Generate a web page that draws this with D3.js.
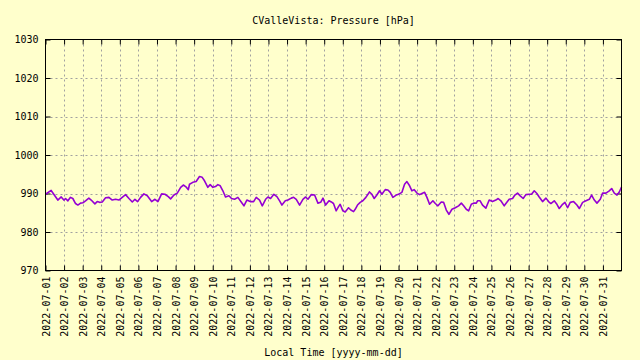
<!DOCTYPE html>
<html>
<head>
<meta charset="utf-8">
<script src="https://cdn.jsdelivr.net/npm/d3@7"></script>
<style>
  html, body { margin: 0; padding: 0; background: #ffffcc; }
  svg { display: block; }
  text { font-family: "DejaVu Sans Mono", monospace; font-size: 10px; fill: #000; }
</style>
</head>
<body>
<svg id="chart" width="640" height="360"></svg>
<script>
// ---- data ----
const title = "CValleVista: Pressure [hPa]";
const xTitle = "Local Time [yyyy-mm-dd]";
const startDate = "2022-07-01";
const endDate = "2022-08-01";
const yTicks = [970, 980, 990, 1000, 1010, 1020, 1030];

// hours after 2022-07-01 00:00
const hours = [
  0, 7.3, 15.9, 20.3, 23.7, 25.9, 28.9, 32.3, 35.3, 38.8, 41.8, 45.3, 48.3, 51.7, 56.0, 59.0,
  63.8, 66.8, 69.8, 73.3, 77.6, 81.9, 86.2, 90.5, 94.8, 99.1, 103.4, 107.8, 112.1, 115.5, 119.0,
  122.8, 127.1, 131.5, 137.1, 141.4, 145.2, 150.0, 154.3, 158.6, 161.6, 165.9, 170.2, 174.6,
  178.0, 181.0, 184.5,
  186, 190.3, 194.6, 198.9, 202.4, 205.4, 209.7, 212.7, 216.2, 219.6, 222.6, 225.7, 229.1,
  232.5, 236.9, 240.3, 244.2, 248.5, 252.8, 256.3, 260.1, 264.4, 268.8, 272.2, 276.5, 280.0,
  284.3, 287.3, 290.7, 295.0, 298.9, 302.4, 305.4, 309.7, 313.1, 317.5, 320.5, 323.9, 328.2,
  332.5, 336.0, 339.0, 343.3, 347.6, 351.9, 355.4, 358.4, 361.8, 366.2, 369.2,
  372, 375.4, 378.5, 380.6, 384.1, 387.1, 391.4, 394.4, 397.9, 400.0, 403.0, 406.5, 409.9,
  413.8, 418.5, 421.6, 424.6, 428.0, 431.5, 434.5, 438.8, 442.3, 445.3, 448.7, 453.0, 456.0,
  460.4, 463.8, 466.8, 470.3, 473.3, 476.3, 479.8, 483.2, 486.2, 489.7, 492.7, 496.1, 500.4,
  503.5, 506.9, 511.2, 514.2, 517.7, 521.1, 525.0, 529.3, 533.6, 537.1, 540.1, 543.5, 546.6,
  550.0, 553.0, 556.5,
  558, 561.4, 564.5, 568.8, 573.1, 577.4, 581.7, 584.7, 588.2, 592.5, 595.9, 598.9, 603.3,
  606.3, 609.7, 613.2, 617.0, 620.5, 624.8, 627.8, 631.3, 634.7, 637.7, 642.0, 646.4, 649.8,
  652.8, 657.1, 660.6, 663.6, 667.9, 670.9, 674.4, 677.8, 682.1, 686.4, 689.5, 693.8, 698.1,
  702.4, 705.4, 708.9, 712.3, 716.6, 719.6, 723.9, 728.2, 731.3, 734.7, 738.2, 741.2, 744.0
];

// pressure [hPa]
const pressure = [
  989.8, 990.8, 988.3, 989.1, 988.3, 988.7, 988.1, 989.0, 988.7, 987.4, 987.0, 987.5, 987.6, 988.1, 988.8, 988.3,
  987.3, 987.9, 987.7, 987.8, 988.9, 989.0, 988.3, 988.5, 988.3, 989.0, 989.7, 988.7, 987.8, 988.5, 987.9,
  989.0, 989.9, 989.4, 987.9, 988.5, 987.9, 989.9, 989.8, 989.2, 988.6, 989.6, 990.1, 991.6,
  992.2, 991.8, 991.0,
  992.4, 992.9, 993.1, 994.4, 994.2, 993.3, 991.6, 992.3, 991.6, 991.8, 992.3, 992.0, 990.7,
  989.1, 989.4, 988.7, 988.5, 989.0, 987.8, 986.8, 988.3, 987.9, 987.9, 989.0, 988.3, 986.8,
  988.5, 989.1, 988.7, 989.8, 989.2, 988.1, 987.0, 988.1, 988.3, 988.8, 989.0, 988.5, 987.0,
  988.5, 989.1, 988.5, 989.7, 989.6, 987.5, 987.7, 988.8, 987.0, 988.1, 987.8,
  987.4, 985.5, 986.6, 987.2, 985.5, 985.2, 986.3, 985.7, 985.3, 985.9, 987.0, 987.7, 988.1,
  989.0, 990.4, 989.8, 988.7, 989.6, 990.7, 989.8, 991.0, 990.9, 990.3, 989.0, 989.6, 989.8,
  990.3, 992.4, 993.1, 992.0, 990.7, 991.0, 990.1, 989.7, 990.0, 990.3, 989.0, 987.2, 988.1,
  987.4, 986.8, 987.8, 987.7, 985.7, 984.6, 985.9, 986.3, 986.8, 987.5, 986.8, 985.9, 985.5,
  987.2, 987.5, 987.5,
  988.1, 988.1, 987.0, 986.2, 988.3, 987.9, 988.3, 988.7, 988.1, 986.8, 987.7, 988.5, 988.7,
  989.6, 990.1, 989.4, 988.7, 989.7, 989.8, 989.8, 990.7, 990.0, 989.1, 987.9, 988.8, 987.9,
  987.4, 988.1, 987.2, 986.1, 987.2, 987.7, 986.3, 987.7, 987.9, 987.0, 986.1, 987.7, 988.1,
  988.5, 989.6, 988.3, 987.5, 988.5, 990.1, 990.1, 990.7, 991.3, 990.1, 989.6, 990.4, 991.7
];

// ---- chart ----
const W = 640, H = 360;
const m = { left: 45.5, right: 18.5, top: 39.5, bottom: 89.5 };
const svg = d3.select("#chart");
svg.append("rect").attr("width", W).attr("height", H).attr("fill", "#ffffcc");

const parse = d3.utcParse("%Y-%m-%d");
const t0 = parse(startDate), t1 = parse(endDate);
const x = d3.scaleUtc().domain([t0, t1]).range([m.left, W - m.right]);
const y = d3.scaleLinear().domain([970, 1030]).range([H - m.bottom, m.top]);

const days = d3.utcDay.range(t0, t1);
const fmt = d3.utcFormat("%Y-%m-%d");

// grid
const grid = svg.append("g").attr("stroke", "#a0a0a0").attr("stroke-dasharray", "2,3").attr("stroke-width", 1);
days.slice(1).forEach(d => {
  grid.append("line").attr("x1", Math.round(x(d)) + 0.5).attr("x2", Math.round(x(d)) + 0.5)
    .attr("y1", m.top).attr("y2", H - m.bottom);
});
yTicks.slice(1, -1).forEach(v => {
  grid.append("line").attr("x1", m.left).attr("x2", W - m.right)
    .attr("y1", Math.round(y(v)) + 0.5).attr("y2", Math.round(y(v)) + 0.5);
});

// axes (ticks inward, mirrored)
const tl = 5;
const xb = d3.axisBottom(x).tickValues(days).tickSize(-tl).tickFormat(fmt);
const xt = d3.axisTop(x).tickValues(days).tickSize(-tl).tickFormat("");
const yl = d3.axisLeft(y).tickValues(yTicks).tickSize(-tl).tickPadding(7).tickFormat(d3.format("d"));
const yr = d3.axisRight(y).tickValues(yTicks).tickSize(-tl).tickFormat("");

function style(g) {
  g.select(".domain").remove();
  g.selectAll(".tick line").attr("stroke", "#000");
  g.selectAll("text").attr("font-family", "DejaVu Sans Mono, monospace").attr("font-size", 10).attr("fill", "#000");
}
svg.append("g").attr("transform", `translate(0,${H - m.bottom})`).call(xb).call(style)
  .selectAll(".tick text")
  .attr("transform", "rotate(-90)")
  .attr("text-anchor", "end")
  .attr("x", -6).attr("y", 0).attr("dy", "0.35em");
svg.append("g").attr("transform", `translate(0,${m.top})`).call(xt).call(style);
svg.append("g").attr("transform", `translate(${m.left},0)`).call(yl).call(style);
svg.append("g").attr("transform", `translate(${W - m.right},0)`).call(yr).call(style);

// line
const pts = hours.map((h, i) => ({ t: d3.utcMinute.offset(t0, Math.round(h * 60)), v: pressure[i] }));
svg.append("path").datum(pts)
  .attr("fill", "none").attr("stroke", "#9400d3").attr("stroke-width", 1.6)
  .attr("stroke-linejoin", "round")
  .attr("d", d3.line().x(d => x(d.t)).y(d => y(d.v)));

// border
svg.append("rect").attr("x", m.left).attr("y", m.top)
  .attr("width", W - m.left - m.right).attr("height", H - m.top - m.bottom)
  .attr("fill", "none").attr("stroke", "#000").attr("stroke-width", 1);

// titles
const cx = (m.left + W - m.right) / 2;
svg.append("text").attr("x", cx).attr("y", 24).attr("text-anchor", "middle").text(title);
svg.append("text").attr("x", cx).attr("y", 356).attr("text-anchor", "middle").text(xTitle);
</script>
</body>
</html>
